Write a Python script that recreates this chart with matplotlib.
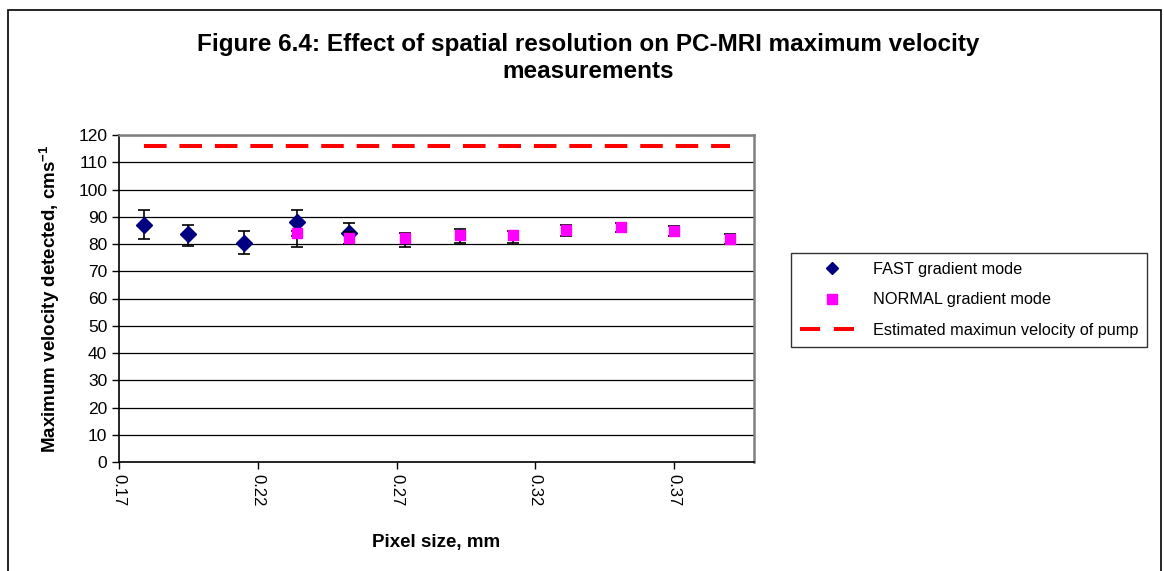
import numpy as np
import matplotlib
matplotlib.use("Agg")
import matplotlib.pyplot as plt
from matplotlib.patches import Rectangle
from matplotlib.lines import Line2D

plt.rcParams['font.family'] = ['Liberation Sans', 'DejaVu Sans']
plt.rcParams['mathtext.fontset'] = 'custom'
plt.rcParams['mathtext.rm'] = 'Liberation Sans'
plt.rcParams['mathtext.bf'] = 'Liberation Sans:bold'

# FAST gradient mode
fast_x = [0.179, 0.195, 0.215, 0.234, 0.253]
fast_y = [87.1, 83.6, 80.5, 87.9, 84.0]
fast_lo = [81.8, 79.4, 76.5, 78.9, 80.0]
fast_hi = [92.5, 87.0, 84.8, 92.5, 87.6]

# NORMAL gradient mode
norm_x = [0.234, 0.253, 0.273, 0.293, 0.312, 0.331, 0.351, 0.370, 0.390]
norm_y = [83.9, 82.1, 82.3, 83.3, 83.2, 85.0, 86.2, 84.8, 82.0]
norm_lo = [83.0, 80.0, 78.8, 80.5, 80.5, 83.0, 84.5, 83.0, 80.0]
norm_hi = [84.8, 84.5, 84.0, 85.4, 84.8, 87.0, 87.6, 86.5, 83.7]

# estimated maximum velocity of pump
pump_x = [0.179, 0.195, 0.215, 0.234, 0.253, 0.273, 0.293, 0.312, 0.331, 0.351, 0.370, 0.390]
pump_y = [116] * len(pump_x)

xticks = [0.17, 0.22, 0.27, 0.32, 0.37]
yticks = list(range(0, 121, 10))

fig = plt.figure(figsize=(11.64, 5.71), dpi=100)
fig.patches.append(Rectangle((8 / 1164, -0.02), 1153 / 1164, 1.02 - 10 / 571,
                             transform=fig.transFigure, fill=False, ec='black', lw=1.2))

ax = fig.add_axes([119 / 1164, 1 - 462 / 571, 635 / 1164, 327 / 571])

for v in yticks[1:]:
    ax.axhline(v, color='black', lw=0.9, zorder=1)

fe = [np.subtract(fast_y, fast_lo), np.subtract(fast_hi, fast_y)]
ax.errorbar(fast_x, fast_y, yerr=fe, fmt='D', color='#000080', ms=8.5,
            ecolor='black', elinewidth=1.2, capsize=4.5, capthick=1.2, zorder=3)
ne = [np.subtract(norm_y, norm_lo), np.subtract(norm_hi, norm_y)]
ax.errorbar(norm_x, norm_y, yerr=ne, fmt='s', color='#FF00FF', ms=7.5,
            ecolor='black', elinewidth=1.2, capsize=4.5, capthick=1.2, zorder=4)
ax.plot(pump_x, pump_y, color='#FF0000', lw=2.9, dashes=(5.6, 3.2), zorder=5)

ax.set_xlim(0.17, 0.3988)
ax.set_ylim(0, 120)
ax.set_xticks(xticks)
ax.set_xticklabels([f"{t:.2f}" for t in xticks], rotation=-90, fontsize=12)
ax.set_yticks(yticks)
ax.set_yticklabels([str(t) for t in yticks], fontsize=12.5)
ax.tick_params(direction='out', length=5, width=1, color='black')
for side in ['left', 'bottom']:
    ax.spines[side].set_color('black')
    ax.spines[side].set_linewidth(1.2)
for side in ['right', 'top']:
    ax.spines[side].set_color('#808080')
    ax.spines[side].set_linewidth(1.8)

ax.set_xlabel("Pixel size, mm", fontsize=13.5, fontweight='bold', labelpad=20)
ax.set_ylabel(r"Maximum velocity detected, cms$^{\mathbf{-1}}$", fontsize=13.5,
              fontweight='bold', labelpad=12)

fig.text(588 / 1164, 1 - 58 / 571,
         "Figure 6.4: Effect of spatial resolution on PC-MRI maximum velocity\nmeasurements",
         ha='center', va='center', fontsize=17.5, fontweight='bold', linespacing=1.2)

handles = [Line2D([], [], ls='none', marker='D', color='#000080', ms=6.5),
           Line2D([], [], ls='none', marker='s', color='#FF00FF', ms=6.5),
           Line2D([], [], color='#FF0000', lw=2.9, dashes=(5.0, 3.4))]
labels = ['FAST gradient mode', 'NORMAL gradient mode', 'Estimated maximun velocity of pump']
leg = fig.legend(handles, labels, loc='upper left', bbox_to_anchor=(791 / 1164, 1 - 253 / 571),
                 fontsize=11.7, frameon=True, fancybox=False, edgecolor='black',
                 borderpad=0.55, labelspacing=0.95, handlelength=4.0, handletextpad=0.5,
                 borderaxespad=0)
leg.get_frame().set_linewidth(1.0)

fig.savefig("out.png", dpi=100)
